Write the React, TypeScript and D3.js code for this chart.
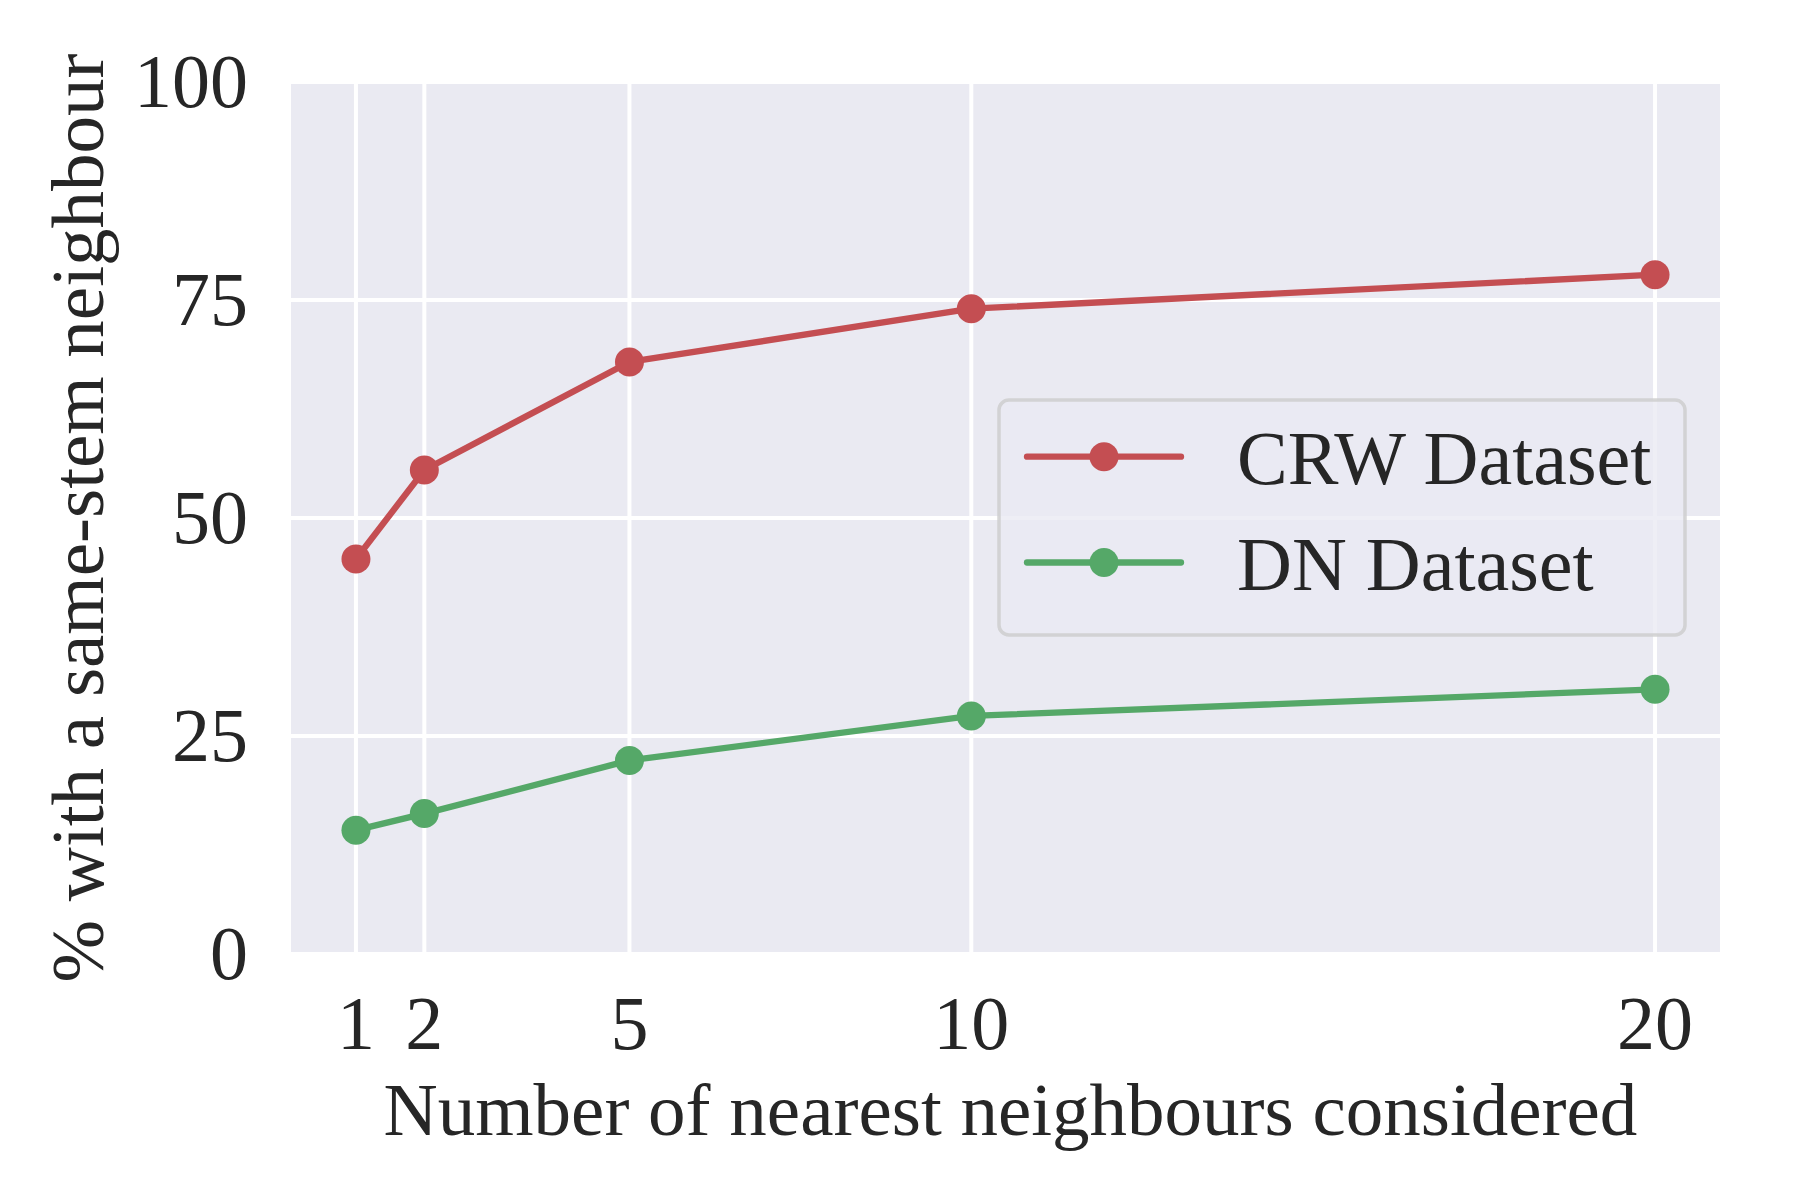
import * as d3 from "d3";

const kValues = [1, 2, 5, 10, 20];
const crwValues = [45.3, 55.5, 67.9, 74.0, 77.9];
const dnValues = [14.2, 16.1, 22.2, 27.3, 30.35];
const yTicks = [0, 25, 50, 75, 100];
const seriesNames = ["CRW Dataset", "DN Dataset"];
const seriesColors = ["#C44E52", "#55A868"];

const W = 1800;
const H = 1200;
const margin = { top: 82, right: 80, bottom: 246, left: 291 };
const FONT = "'Liberation Serif', 'Times New Roman', serif";
const TEXT = "#262626";

export default function App() {
  const x = d3.scaleLinear().domain([0.05, 20.95]).range([margin.left, W - margin.right]);
  const y = d3.scaleLinear().domain([0, 100]).range([H - margin.bottom, margin.top]);

  const line = d3
    .line<number>()
    .x((_, i) => x(kValues[i]))
    .y((d) => y(d));

  const series = [crwValues, dnValues];
  const [x0, x1] = x.range();
  const [y0, y1] = y.range();

  // legend geometry
  const lg = { left: 999, top: 400, right: 1685, bottom: 635 };
  const rowY = [456.7, 562.5];

  return (
    <svg
      width={W}
      height={H}
      style={{ position: "absolute", left: 0, top: 0, background: "#fff" }}
      fontFamily={FONT}
    >
      <rect x={x0} y={y1} width={x1 - x0} height={y0 - y1} fill="#EAEAF2" />
      <clipPath id="plot">
        <rect x={x0} y={y1} width={x1 - x0} height={y0 - y1} />
      </clipPath>
      <g clipPath="url(#plot)">
        {yTicks.map((t) => (
          <line key={"gy" + t} x1={x0} x2={x1} y1={y(t)} y2={y(t)} stroke="#fff" strokeWidth={4} />
        ))}
        {kValues.map((k) => (
          <line key={"gx" + k} x1={x(k)} x2={x(k)} y1={y0} y2={y1} stroke="#fff" strokeWidth={4} />
        ))}
      </g>

      {series.map((vals, si) => (
        <g key={si}>
          <path
            d={line(vals) ?? ""}
            fill="none"
            stroke={seriesColors[si]}
            strokeWidth={6.3}
            strokeLinejoin="round"
            strokeLinecap="round"
          />
          {vals.map((v, i) => (
            <circle key={i} cx={x(kValues[i])} cy={y(v)} r={14.5} fill={seriesColors[si]} />
          ))}
        </g>
      ))}

      {/* y ticks */}
      {yTicks.map((t) => (
        <text key={"ty" + t} x={248} y={y(t) + 25} textAnchor="end" fontSize={76} fill={TEXT}>
          {t}
        </text>
      ))}
      {/* x ticks */}
      {kValues.map((k) => (
        <text key={"tx" + k} x={x(k)} y={1049} textAnchor="middle" fontSize={76} fill={TEXT}>
          {k}
        </text>
      ))}

      <text x={(x0 + x1) / 2 + 5} y={1135} textAnchor="middle" fontSize={75} fill={TEXT}>
        Number of nearest neighbours considered
      </text>
      <text
        transform={`translate(103,${(y0 + y1) / 2}) rotate(-90)`}
        textAnchor="middle"
        fontSize={75}
        fill={TEXT}
      >
        % with a same-stem neighbour
      </text>

      {/* legend */}
      <rect
        x={lg.left}
        y={lg.top}
        width={lg.right - lg.left}
        height={lg.bottom - lg.top}
        rx={10}
        fill="#EAEAF2"
        fillOpacity={0.8}
        stroke="#CCCCCC"
        strokeOpacity={0.8}
        strokeWidth={3.5}
      />
      {seriesNames.map((name, i) => (
        <g key={name}>
          <line
            x1={1027}
            x2={1181}
            y1={rowY[i]}
            y2={rowY[i]}
            stroke={seriesColors[i]}
            strokeWidth={6.3}
            strokeLinecap="round"
          />
          <circle cx={1104} cy={rowY[i]} r={14.5} fill={seriesColors[i]} />
          <text x={1237} y={rowY[i] + 27.5} fontSize={76} fill={TEXT}>
            {name}
          </text>
        </g>
      ))}
    </svg>
  );
}
